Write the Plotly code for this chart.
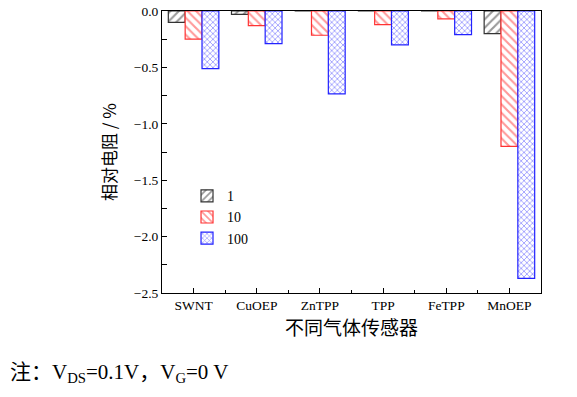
import plotly.graph_objects as go

categories = ["SWNT", "CuOEP", "ZnTPP", "TPP", "FeTPP", "MnOEP"]
vals_1 = [-0.10, -0.03, 0.0, 0.0, 0.0, -0.20]
vals_10 = [-0.25, -0.13, -0.215, -0.12, -0.07, -1.20]
vals_100 = [-0.51, -0.29, -0.735, -0.30, -0.21, -2.37]
series_names = ["1", "10", "100"]
y_ticks = [0.0, -0.5, -1.0, -1.5, -2.0, -2.5]

FONT = "Liberation Serif, Times New Roman, Noto Sans CJK SC"
CJK = "Noto Sans CJK SC, Liberation Serif"

xpos = list(range(len(categories)))

fig = go.Figure()
styles = [
    ("#333333", "/", 6),
    ("#ff3333", "\\", 6),
    ("#2222ff", "x", 4),
]
for name, vals, (col, shape, size) in zip(series_names, [vals_1, vals_10, vals_100], styles):
    fig.add_trace(go.Bar(
        x=xpos, y=vals, name=name,
        marker=dict(color="white", line=dict(color=col, width=1.2),
                    pattern=dict(shape=shape, fgcolor=col, bgcolor="white",
                                 size=size, solidity=0.35, fillmode="overlay")),
    ))

fig.update_layout(
    width=577, height=397,
    margin=dict(l=162, r=36, t=11, b=104),
    paper_bgcolor="white", plot_bgcolor="white",
    barmode="group", bargap=0.2, bargroupgap=0,
    font=dict(family=FONT, size=13, color="black"),
    showlegend=True,
    legend=dict(x=0.066, y=0.40, xanchor="left", yanchor="top",
                bgcolor="rgba(0,0,0,0)", font=dict(size=14, family=FONT),
                tracegroupgap=0),
    xaxis=dict(range=[-0.5, 5.5], automargin=False, showline=True, linecolor="black", linewidth=1,
               mirror=True, ticks="inside", ticklen=5, tickcolor="black",
               tickvals=xpos, ticktext=categories, showgrid=False, zeroline=False,
               minor=dict(ticks="inside", ticklen=3, tick0=0.5, dtick=1, tickcolor="black", showgrid=False),
               tickfont=dict(size=13.5, family=FONT),
               title=dict(text="不同气体传感器", font=dict(size=19, family=CJK), standoff=8)),
    yaxis=dict(range=[-2.5, 0.0], automargin=False, showline=True, linecolor="black", linewidth=1,
               mirror=True, ticks="inside", ticklen=5, tickcolor="black",
               tickvals=y_ticks, tickformat=".1f", showgrid=False, zeroline=False,
               minor=dict(ticks="inside", ticklen=5, dtick=0.25, tickcolor="black", showgrid=False),
               tickfont=dict(size=13.5, family=FONT),
               title=dict(text="相对电阻 / %", font=dict(size=17, family=CJK), standoff=12)),
)
fig.add_annotation(
    text="注：V<sub>DS</sub>=0.1V，V<sub>G</sub>=0 V",
    xref="paper", yref="paper", x=-0.406, y=-0.284, xanchor="left", yanchor="middle",
    showarrow=False, font=dict(size=21, family=FONT),
)
fig.write_html("out.html", config={"displayModeBar": False},
               post_script="document.body.style.margin='0';")
